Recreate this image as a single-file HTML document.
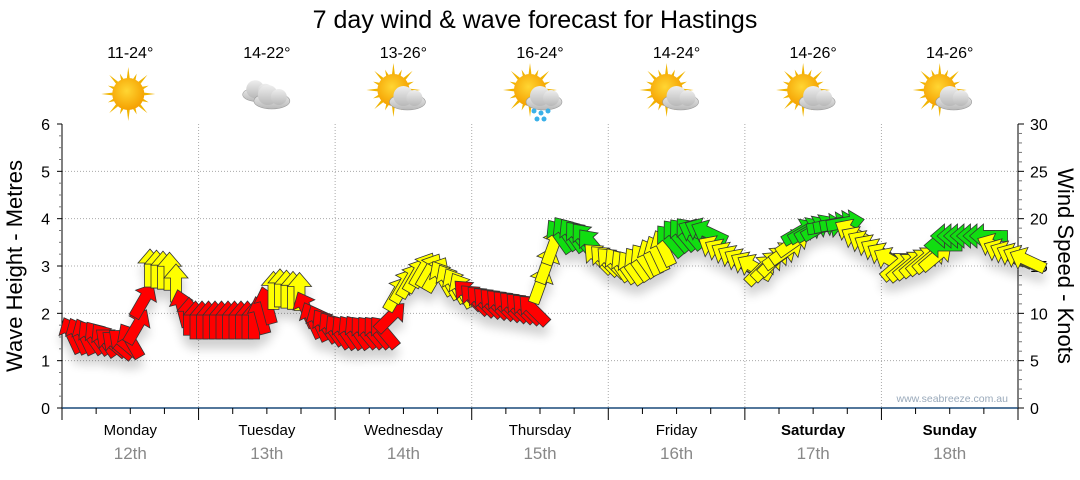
<!DOCTYPE html>
<html><head><meta charset="utf-8"><style>
body{margin:0;background:#fff;width:1080px;height:475px;overflow:hidden}
svg text{font-family:"Liberation Sans","DejaVu Sans",sans-serif}
</style></head><body>
<svg id="s" width="1080" height="475" xmlns="http://www.w3.org/2000/svg">
<defs>
<filter id="sh" x="-20%" y="-20%" width="140%" height="160%"><feGaussianBlur stdDeviation="5"/></filter>
<radialGradient id="sun" cx="45%" cy="40%" r="60%"><stop offset="0" stop-color="#ffd633"/><stop offset="1" stop-color="#f5a000"/></radialGradient>
<linearGradient id="cl" x1="0" y1="0" x2="0" y2="1"><stop offset="0" stop-color="#eeeeee"/><stop offset="1" stop-color="#b8b8b8"/></linearGradient>
</defs>
<text x="535" y="28" font-size="25" text-anchor="middle" fill="#000">7 day wind &amp; wave forecast for Hastings</text>
<g id="g"></g>
</svg>
<script>
var s=document.getElementById('g'),h='';
var L=62,R=1018,T=124,B=408,dw=(R-L)/7;
function yv(v){return B-v*(B-T)/6;}
for(var i=1;i<=5;i++)h+='<line x1="'+L+'" x2="'+R+'" y1="'+yv(i)+'" y2="'+yv(i)+'" stroke="#aaa" stroke-dasharray="1,2"/>';
for(i=1;i<7;i++){var x=L+i*dw;h+='<line x1="'+x+'" x2="'+x+'" y1="'+T+'" y2="'+B+'" stroke="#aaa" stroke-dasharray="1,2"/>';}
h+='<line x1="'+L+'" x2="'+L+'" y1="'+T+'" y2="'+(B+6)+'" stroke="#000"/>';
h+='<line x1="'+R+'" x2="'+R+'" y1="'+T+'" y2="'+(B+6)+'" stroke="#000"/>';
h+='<line x1="'+L+'" x2="'+R+'" y1="'+B+'" y2="'+B+'" stroke="#1a4a7a" stroke-width="1.5"/>';
for(i=0;i<=24;i++){var y=yv(i/4);var w=i%4==0?6:4;
 h+='<line x1="'+(L-w+1)+'" x2="'+L+'" y1="'+y+'" y2="'+y+'" stroke="'+(i%4?'#777':'#000')+'"/>';}
for(i=0;i<=6;i++)h+='<text x="'+(L-12)+'" y="'+(yv(i)+6)+'" font-size="16" text-anchor="end">'+i+'</text>';
for(i=0;i<=30;i++){var y=B-i*(B-T)/30;var w=i%5==0?6:4;
 h+='<line x1="'+R+'" x2="'+(R+w)+'" y1="'+y+'" y2="'+y+'" stroke="'+(i%5?'#777':'#000')+'"/>';}
for(i=0;i<=30;i+=5)h+='<text x="'+(R+12)+'" y="'+(B-i*(B-T)/30+6)+'" font-size="16">'+i+'</text>';
for(i=0;i<=28;i++){var x=L+i*dw/4;h+='<line x1="'+x+'" x2="'+x+'" y1="'+B+'" y2="'+(B+(i%4?6:12))+'" stroke="#000"/>';}
h+='<text transform="translate(22,266) rotate(-90)" font-size="22" text-anchor="middle">Wave Height - Metres</text>';
h+='<text transform="translate(1058,266) rotate(90)" font-size="22" text-anchor="middle">Wind Speed - Knots</text>';
h+='<text x="1008" y="402" font-size="10.5" fill="#9aaabb" text-anchor="end">www.seabreeze.com.au</text>';
var days=['Monday','Tuesday','Wednesday','Thursday','Friday','Saturday','Sunday'],dt=['12th','13th','14th','15th','16th','17th','18th'];
var tmp=['11-24°','14-22°','13-26°','16-24°','14-24°','14-26°','14-26°'];
for(i=0;i<7;i++){var cx=L+(i+0.5)*dw;
 h+='<text x="'+cx+'" y="435" font-size="15" text-anchor="middle"'+(i>=5?' font-weight="bold"':'')+'>'+days[i]+'</text>';
 h+='<text x="'+cx+'" y="459" font-size="17" fill="#888" text-anchor="middle">'+dt[i]+'</text>';
 h+='<text x="'+cx+'" y="58" font-size="16" text-anchor="middle">'+tmp[i]+'</text>';
 var ix=cx-2,iy=94;
 if(i!=1){var sx=i==0?ix:ix-8,sy=i==0?iy:iy-4;
  for(var k=0;k<16;k++){var a=k*Math.PI/8,r=k%2?22:27;
   h+='<polygon points="'+(sx+Math.cos(a-0.12)*14)+','+(sy+Math.sin(a-0.12)*14)+' '+(sx+Math.cos(a)*r)+','+(sy+Math.sin(a)*r)+' '+(sx+Math.cos(a+0.12)*14)+','+(sy+Math.sin(a+0.12)*14)+'" fill="#f0b400"/>';}
  h+='<circle cx="'+sx+'" cy="'+sy+'" r="16" fill="url(#sun)"/>';}
 function cloud(x,y,sc){return '<g transform="translate('+x+','+y+') scale('+sc+')"><ellipse cx="0" cy="4" rx="18" ry="8" fill="url(#cl)" stroke="#999" stroke-width="0.6"/><circle cx="-4" cy="-2" r="10" fill="url(#cl)"/><circle cx="7" cy="0" r="8" fill="url(#cl)"/></g>';}
 if(i==1){h+=cloud(ix-6,iy-3,0.9)+cloud(ix+7,iy+3,1);}
 else if(i>=2){h+=cloud(ix+6,iy+4,1);
  if(i==3){h+='<circle cx="'+(ix-4)+'" cy="'+(iy+17)+'" r="2.5" fill="#3ab0e8"/><circle cx="'+(ix+3)+'" cy="'+(iy+19)+'" r="2.5" fill="#3ab0e8"/><circle cx="'+(ix+10)+'" cy="'+(iy+17)+'" r="2.5" fill="#3ab0e8"/><circle cx="'+(ix-1)+'" cy="'+(iy+25)+'" r="2.5" fill="#3ab0e8"/><circle cx="'+(ix+6)+'" cy="'+(iy+25)+'" r="2.5" fill="#3ab0e8"/>';}}
}
var K=[[72,335,-25,'r'],[100,338,-35,'r'],[118,345,-50,'r'],[132,340,-30,'r'],[140,318,30,'r'],[150,268,0,'y'],[174,272,0,'y'],[180,305,-15,'r'],[192,320,0,'r'],[255,320,0,'r'],[264,312,-15,'r'],[275,287,0,'y'],[302,292,0,'y'],[308,318,-25,'r'],[340,332,-35,'r'],[386,332,-40,'r'],[392,312,45,'r'],[398,290,30,'y'],[425,268,30,'y'],[455,285,-30,'y'],[476,300,-45,'r'],[534,310,-45,'r'],[540,285,20,'y'],[552,248,20,'y'],[562,232,-35,'g'],[590,240,-40,'g'],[598,258,-45,'y'],[630,268,-35,'y'],[660,252,-25,'y'],[674,236,-40,'g'],[708,230,-65,'g'],[714,248,-60,'y'],[748,265,-60,'y'],[762,270,45,'y'],[790,248,55,'y'],[800,232,60,'g'],[845,222,80,'g'],[856,238,-60,'y'],[888,258,-60,'y'],[900,268,50,'y'],[940,255,50,'y'],[946,236,-90,'g'],[992,236,-90,'g'],[996,250,-65,'y'],[1032,262,-65,'y']];
function interp(x){for(var j=0;j<K.length-1;j++){if(x<=K[j+1][0]){var a=K[j],b=K[j+1],t=(x-a[0])/(b[0]-a[0]);var n=t<0.5?a:b;return [a[1]+(b[1]-a[1])*t,n[2],n[3]];}}var l=K[K.length-1];return [l[1],l[2],l[3]];}
var col={r:'#ff0000',y:'#ffff00',g:'#11dd11'};
var arr='',shd='';
var P='0,-19 12,-5 5.5,-5 5.5,19 -5.5,19 -5.5,-5 -12,-5';
for(var x=72;x<=1030;x+=6.5){var v=interp(x);
 shd+='<polygon points="'+P+'" transform="translate('+x+','+(v[0]+10)+') rotate('+v[1]+')" fill="#000"/>';
 arr+='<polygon points="'+P+'" transform="translate('+x+','+v[0]+') rotate('+v[1]+')" fill="'+col[v[2]]+'" stroke="#333" stroke-width="0.8"/>';}
h+='<g filter="url(#sh)" opacity="0.18">'+shd+'</g>'+arr;
s.innerHTML=h;
</script>
</body></html>
